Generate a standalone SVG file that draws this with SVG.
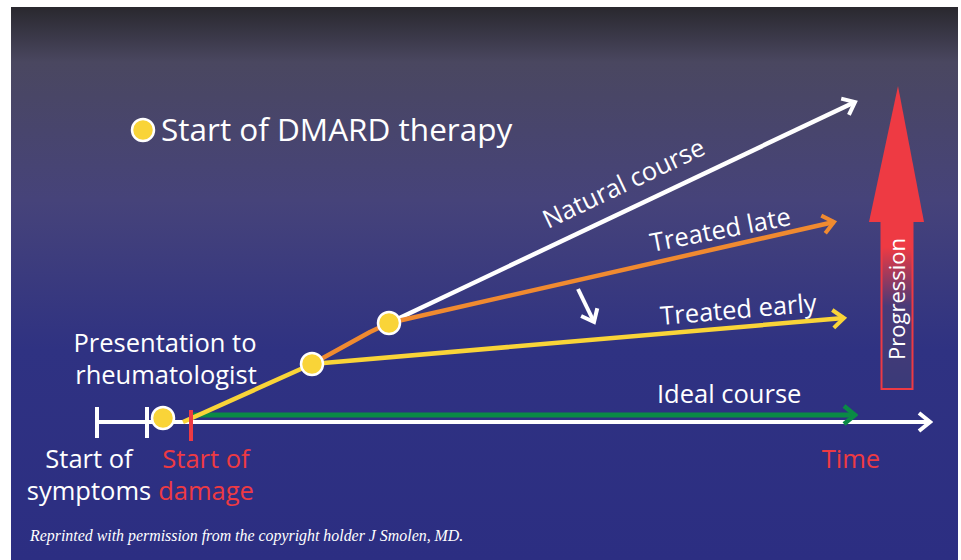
<svg xmlns="http://www.w3.org/2000/svg" width="961" height="560" viewBox="0 0 961 560">
  <defs>
    <linearGradient id="bg" x1="0" y1="7" x2="0" y2="560" gradientUnits="userSpaceOnUse">
      <stop offset="0" stop-color="#29282e"/>
      <stop offset="0.1" stop-color="#4a4760"/>
      <stop offset="0.35" stop-color="#46437a"/>
      <stop offset="0.62" stop-color="#2f3282"/>
      <stop offset="1" stop-color="#2c2e82"/>
    </linearGradient>
    <linearGradient id="shaft" x1="0" y1="222" x2="0" y2="390" gradientUnits="userSpaceOnUse">
      <stop offset="0" stop-color="#ee3a43"/>
      <stop offset="0.15" stop-color="#ee3a43"/>
      <stop offset="0.5" stop-color="#4a3a78"/>
      <stop offset="1" stop-color="#3a3a78"/>
    </linearGradient>
    <marker id="head-white-lg" markerWidth="16" markerHeight="22" refX="13" refY="11" orient="auto" markerUnits="userSpaceOnUse" viewBox="0 0 16 22">
      <path d="M2,2 L13,11 L2,20" fill="none" stroke="#ffffff" stroke-width="4"/>
    </marker>
    <marker id="head-orange" markerWidth="16" markerHeight="22" refX="13" refY="11" orient="auto" markerUnits="userSpaceOnUse" viewBox="0 0 16 22">
      <path d="M2,2 L13,11 L2,20" fill="none" stroke="#f08a30" stroke-width="4"/>
    </marker>
    <marker id="head-yellow" markerWidth="16" markerHeight="22" refX="13" refY="11" orient="auto" markerUnits="userSpaceOnUse" viewBox="0 0 16 22">
      <path d="M2,2 L13,11 L2,20" fill="none" stroke="#f9d438" stroke-width="4"/>
    </marker>
    <marker id="head-green" markerWidth="16" markerHeight="22" refX="13" refY="11" orient="auto" markerUnits="userSpaceOnUse" viewBox="0 0 16 22">
      <path d="M2,2 L13,11 L2,20" fill="none" stroke="#0a8a45" stroke-width="4.5"/>
    </marker>
  </defs>
  <style>
    .lbl { font-family: "Open Sans", "Noto Sans", "Liberation Sans", sans-serif; fill: #ffffff; font-size: 25.5px; }
    .red { fill: #ee3a43; }
    .dot { fill: #f9d438; stroke: #ffffff; stroke-width: 2.5; }
    .ln { fill: none; stroke-linecap: butt; stroke-linejoin: round; }
  </style>

  <!-- backdrop -->
  <rect x="0" y="0" width="961" height="560" fill="#ffffff"/>
  <rect x="11" y="7" width="947" height="553" fill="url(#bg)"/>

  <!-- legend -->
  <g id="legend">
    <circle class="dot" cx="143" cy="130" r="11"/>
    <text class="lbl" x="161" y="141" style="font-size:31.5px">Start of DMARD therapy</text>
  </g>

  <!-- connectors -->
  <g id="connectors">
    <!-- time axis -->
    <line class="ln" x1="95" y1="422" x2="930" y2="422" stroke="#ffffff" stroke-width="4" marker-end="url(#head-white-lg)"/>
    <!-- ideal course -->
    <line class="ln" x1="191" y1="415" x2="855" y2="415" stroke="#0a8a45" stroke-width="5" marker-end="url(#head-green)"/>
    <!-- natural course -->
    <line class="ln" x1="389" y1="323" x2="855" y2="102" stroke="#ffffff" stroke-width="4.5" marker-end="url(#head-white-lg)"/>
    <!-- treated late -->
    <polyline class="ln" points="312,364 370,332 389,323 834,222" stroke="#f08a30" stroke-width="4.5" marker-end="url(#head-orange)"/>
    <!-- treated early -->
    <polyline class="ln" points="183,422 312,364 844,318" stroke="#f9d438" stroke-width="4.5" marker-end="url(#head-yellow)"/>
    <!-- shift downward -->
    <line class="ln" x1="578" y1="289" x2="594" y2="322" stroke="#ffffff" stroke-width="4" marker-end="url(#head-white-lg)"/>
  </g>

  <!-- axis ticks -->
  <g id="ticks">
    <line x1="97" y1="407" x2="97" y2="438" stroke="#ffffff" stroke-width="4"/>
    <line x1="147" y1="407" x2="147" y2="438" stroke="#ffffff" stroke-width="4"/>
    <line x1="191" y1="410" x2="191" y2="441" stroke="#ee3a43" stroke-width="4"/>
  </g>

  <!-- therapy start points -->
  <g id="start-symptoms-dot"><circle class="dot" cx="163" cy="418" r="11"/></g>
  <g id="start-early-dot"><circle class="dot" cx="312" cy="364" r="11"/></g>
  <g id="start-late-dot"><circle class="dot" cx="389" cy="323" r="11"/></g>

  <!-- course labels -->
  <g id="natural-course">
    <text class="lbl" transform="translate(548,229) rotate(-25.4)">Natural course</text>
  </g>
  <g id="treated-late">
    <text class="lbl" transform="translate(652,252) rotate(-11)">Treated late</text>
  </g>
  <g id="treated-early">
    <text class="lbl" transform="translate(661,325) rotate(-4.9)">Treated early</text>
  </g>
  <g id="ideal-course">
    <text class="lbl" x="657" y="403">Ideal course</text>
  </g>

  <!-- axis labels -->
  <g id="presentation">
    <text class="lbl" x="165" y="352" text-anchor="middle">Presentation to</text>
    <text class="lbl" x="166" y="384" text-anchor="middle">rheumatologist</text>
  </g>
  <g id="start-symptoms">
    <text class="lbl" x="89" y="468" text-anchor="middle">Start of</text>
    <text class="lbl" x="89" y="500" text-anchor="middle">symptoms</text>
  </g>
  <g id="start-damage">
    <text class="lbl red" x="206" y="468" text-anchor="middle">Start of</text>
    <text class="lbl red" x="206" y="500" text-anchor="middle">damage</text>
  </g>
  <g id="time">
    <text class="lbl red" x="851" y="468" text-anchor="middle">Time</text>
  </g>

  <!-- progression arrow -->
  <g id="progression">
    <polygon points="898,86 924,222 869,222" fill="#ee3a43"/>
    <rect x="881.5" y="222" width="31" height="167" fill="url(#shaft)" stroke="#ee3a43" stroke-width="2"/>
    <text class="lbl" text-anchor="middle" transform="translate(905,299) rotate(-90)" style="font-size:22px">Progression</text>
  </g>

  <!-- credit -->
  <text x="30" y="541" font-family="Liberation Serif, serif" font-style="italic" font-size="15.9" fill="#ffffff">Reprinted with permission from the copyright holder J Smolen, MD.</text>
</svg>
